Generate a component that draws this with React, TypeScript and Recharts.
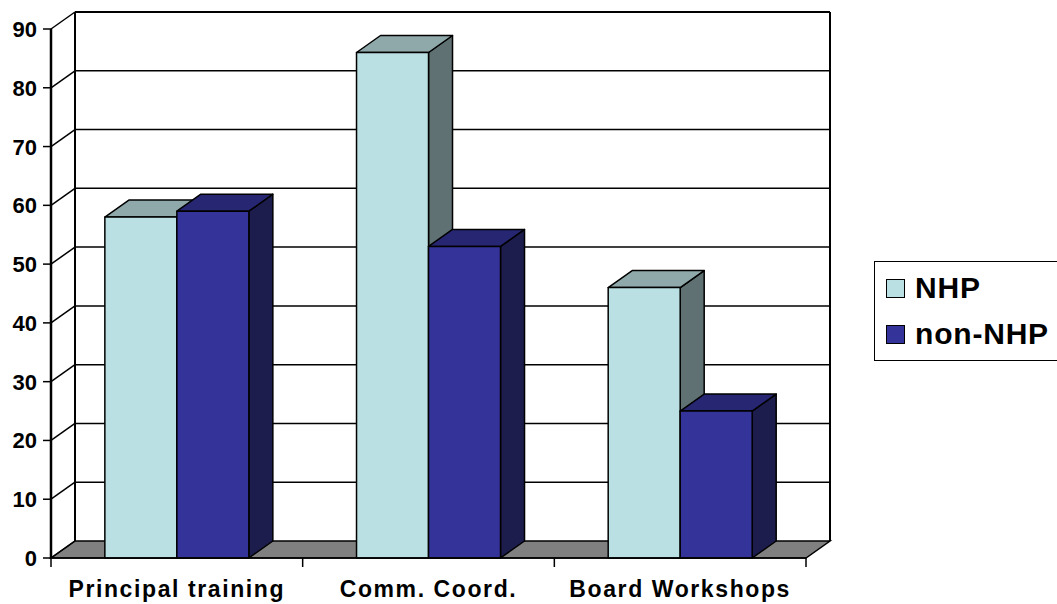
import React from 'react'
import { BarChart, Bar, XAxis, YAxis, CartesianGrid, Legend } from 'recharts'

const categories = ['Principal training', 'Comm. Coord.', 'Board Workshops']
const nhpValues = [58, 86, 46]
const nonNhpValues = [59, 53, 25]
const yTicks = [0, 10, 20, 30, 40, 50, 60, 70, 80, 90]

const data = categories.map((name, i) => ({ name, nhp: nhpValues[i], nonNhp: nonNhpValues[i] }))

// depth offset of the fake 3d box
const DX = 24
const DY = -17
const TOP = 29
const BOTTOM = 558
const FONT = '"Liberation Sans", Arial, sans-serif'

const faces = {
  nhp: { front: '#BBE0E3', top: '#8FA9AB', side: '#5F7172' },
  nonNhp: { front: '#333399', top: '#262673', side: '#1C1C4D' },
}

function Box3D(props: any) {
  const { x, y, width: w, height: h, face } = props
  if (w == null || h == null) return null
  return (
    <g stroke="#000" strokeWidth={1.5} strokeLinejoin="round">
      <polygon points={`${x + w},${y} ${x + w + DX},${y + DY} ${x + w + DX},${y + h + DY} ${x + w},${y + h}`} fill={face.side} />
      <polygon points={`${x},${y} ${x + DX},${y + DY} ${x + w + DX},${y + DY} ${x + w},${y}`} fill={face.top} />
      <rect x={x} y={y} width={w} height={h} fill={face.front} />
    </g>
  )
}

// back wall grid lines, with the little diagonal from the front axis
function GridLine(props: any) {
  const { x1, y1, x2, index } = props
  const isFloor = Math.abs(y1 - BOTTOM) < 1
  const isTop = Math.abs(y1 - TOP) < 1
  return (
    <g key={`grid-${index}`}>
      {isFloor && (
        <polygon
          points={`${x1},${y1} ${x2},${y1} ${x2 + DX},${y1 + DY} ${x1 + DX},${y1 + DY}`}
          fill="#808080"
          stroke="#000"
          strokeWidth={1.5}
        />
      )}
      {isTop && (
        <g stroke="#000" strokeWidth={2}>
          <line x1={x1 + DX} y1={y1 + DY} x2={x1 + DX} y2={BOTTOM + DY} />
          <line x1={x2 + DX} y1={y1 + DY} x2={x2 + DX} y2={BOTTOM + DY} />
        </g>
      )}
      <line x1={x1} y1={y1} x2={x1 + DX} y2={y1 + DY} stroke="#000" strokeWidth={1.5} />
      {!isFloor && (
        <line x1={x1 + DX} y1={y1 + DY} x2={x2 + DX} y2={y1 + DY} stroke="#000" strokeWidth={isTop ? 2 : 1.5} />
      )}
    </g>
  )
}

function ValueTick(props: any) {
  const { x, y, payload } = props
  return (
    <text x={x} y={y + 8} textAnchor="end" fontFamily={FONT} fontWeight="bold" fontSize={22} fill="#000">
      {payload.value}
    </text>
  )
}

function CategoryTick(props: any) {
  const { x, y, payload, index, visibleTicksCount, width } = props
  const bw = width / visibleTicksCount
  return (
    <g>
      <line x1={x - bw / 2} y1={y} x2={x - bw / 2} y2={y + 9} stroke="#000" strokeWidth={1.5} />
      {index === visibleTicksCount - 1 && (
        <line x1={x + bw / 2} y1={y} x2={x + bw / 2} y2={y + 9} stroke="#000" strokeWidth={1.5} />
      )}
      <text x={x} y={y + 39} textAnchor="middle" fontFamily={FONT} fontWeight="bold" fontSize={23} letterSpacing={1.6} fill="#000">
        {payload.value}
      </text>
    </g>
  )
}

function LegendBox(props: any) {
  const { payload } = props
  return (
    <div
      style={{
        border: '1.5px solid #000',
        borderRight: 'none',
        background: '#fff',
        width: 230,
        padding: '3px 0 3px 0',
        fontFamily: FONT,
        fontWeight: 'bold',
        fontSize: 30,
        letterSpacing: 0.8,
        boxSizing: 'border-box',
      }}
    >
      {(payload || []).map((item: any) => (
        <div key={item.value} style={{ display: 'flex', alignItems: 'center', height: 46, paddingLeft: 11 }}>
          <span
            style={{
              display: 'inline-block',
              width: 17,
              height: 17,
              border: '1.5px solid #000',
              background: item.color,
              marginRight: 10,
            }}
          />
          <span>{item.value}</span>
        </div>
      ))}
    </div>
  )
}

export default function App() {
  return (
    <div style={{ position: 'absolute', left: 0, top: 0, width: 1057, height: 604, overflow: 'hidden', background: '#fff' }}>
      <BarChart
        width={1057}
        height={604}
        data={data}
        margin={{ top: TOP, right: 251, bottom: 0, left: 0 }}
        barGap={0}
        barCategoryGap="21.4%"
      >
        <CartesianGrid vertical={false} horizontal={(p: any) => <GridLine {...p} />} />
        <XAxis
          dataKey="name"
          height={46}
          tickLine={false}
          tickSize={0}
          tickMargin={0}
          axisLine={{ stroke: '#000', strokeWidth: 1.5 }}
          tick={<CategoryTick />}
          interval={0}
        />
        <YAxis
          width={51}
          domain={[0, 90]}
          ticks={yTicks}
          interval={0}
          tickSize={8}
          tickMargin={6}
          axisLine={{ stroke: '#000', strokeWidth: 2.5 }}
          tickLine={{ stroke: '#000', strokeWidth: 1.5 }}
          tick={<ValueTick />}
        />
        <Legend
          layout="vertical"
          align="center"
          verticalAlign="middle"
          content={<LegendBox />}
          wrapperStyle={{ left: 874, top: 261, width: 230 }}
        />
        <Bar
          dataKey="nhp"
          name="NHP"
          fill={faces.nhp.front}
          isAnimationActive={false}
          shape={(p: any) => <Box3D {...p} face={faces.nhp} />}
        />
        <Bar
          dataKey="nonNhp"
          name="non-NHP"
          fill={faces.nonNhp.front}
          isAnimationActive={false}
          shape={(p: any) => <Box3D {...p} face={faces.nonNhp} />}
        />
      </BarChart>
    </div>
  )
}
